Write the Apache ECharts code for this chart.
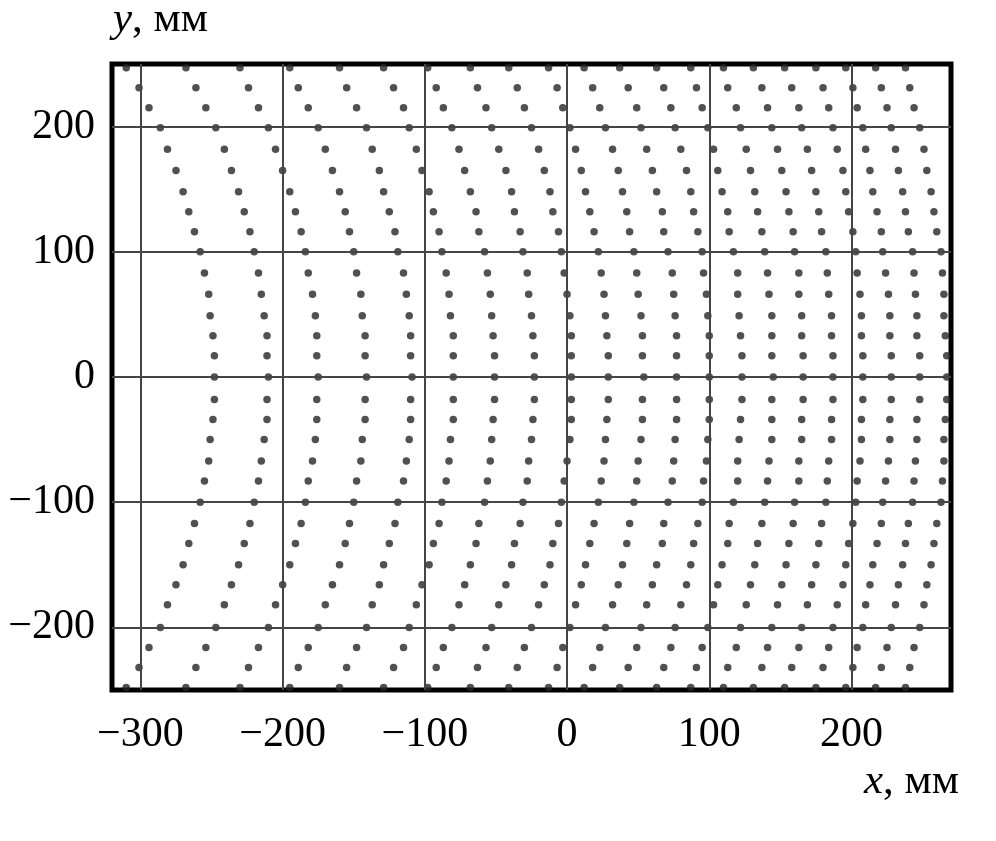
<!DOCTYPE html>
<html>
<head>
<meta charset="utf-8">
<script src="https://cdn.jsdelivr.net/npm/echarts@6/dist/echarts.min.js"></script>
<style>html,body{margin:0;padding:0;background:#fff}#c{width:996px;height:841px}</style>
</head>
<body>
<div id="c"></div>
<script>
// Row heights (mm), top to bottom
const rowsY = [247,231,215,199,182,165,148,132,116,100,83,66,49,33,17,0,-18,-34,-50,-67,-83,-100,-117,-133,-150,-166,-182,-200,-216,-232,-248];
// Dot x positions (mm) for each column, one value per row above
const col01 = [-310,-301,-294,-286,-281,-275,-270,-266,-262,-258,-255,-252,-251,-249,-248,-248,-248,-249,-251,-252,-255,-258,-262,-266,-270,-275,-281,-286,-294,-301,-310];
const col02 = [-268,-261,-254,-247,-241,-236,-231,-227,-223,-220,-217,-215,-213,-211,-211,-210,-211,-211,-213,-215,-217,-220,-223,-227,-231,-236,-241,-247,-254,-261,-268];
const col03 = [-230,-224,-217,-210,-205,-200,-195,-191,-187,-184,-182,-179,-177,-176,-176,-175,-176,-176,-177,-179,-182,-184,-187,-191,-195,-200,-205,-210,-217,-224,-230];
const col04 = [-195,-189,-182,-175,-170,-165,-160,-156,-153,-150,-148,-145,-144,-142,-142,-141,-142,-142,-144,-145,-148,-150,-153,-156,-160,-165,-170,-175,-182,-189,-195];
const col05 = [-160,-155,-148,-141,-137,-132,-129,-125,-121,-119,-115,-113,-111,-110,-110,-109,-110,-110,-111,-113,-115,-119,-121,-125,-129,-132,-137,-141,-148,-155,-160];
const col06 = [-129,-122,-115,-111,-106,-102,-97,-94,-90,-88,-85,-83,-82,-80,-80,-80,-80,-80,-82,-83,-85,-88,-90,-94,-97,-102,-106,-111,-115,-122,-129];
const col07 = [-98,-92,-87,-81,-76,-72,-68,-64,-62,-58,-56,-54,-53,-52,-51,-51,-51,-52,-53,-54,-56,-58,-62,-64,-68,-72,-76,-81,-87,-92,-98];
const col08 = [-68,-63,-57,-53,-48,-43,-39,-37,-33,-31,-28,-27,-25,-24,-23,-23,-23,-24,-25,-27,-28,-31,-33,-37,-39,-43,-48,-53,-57,-63,-68];
const col09 = [-41,-35,-30,-25,-20,-16,-12,-10,-6,-4,-2,0,2,3,3,3,3,3,2,0,-2,-4,-6,-10,-12,-16,-20,-25,-30,-35,-41];
const col10 = [-13,-7,-3,2,6,10,13,16,19,22,24,26,27,28,29,29,29,28,27,26,24,22,19,16,13,10,6,2,-3,-7,-13];
const col11 = [12,18,23,27,32,36,39,42,44,47,49,50,52,53,53,54,53,53,52,50,49,47,44,42,39,36,32,27,23,18,12];
const col12 = [37,43,49,52,56,60,63,67,68,71,74,75,76,77,77,77,77,77,76,75,74,71,68,67,63,60,56,52,49,43,37];
const col13 = [63,68,73,76,80,84,87,89,92,95,96,98,99,100,100,100,100,100,99,98,96,95,92,89,87,84,80,76,73,68,63];
const col14 = [87,91,95,99,103,106,109,113,114,117,120,120,121,122,123,123,123,122,121,120,120,117,114,113,109,106,103,99,95,91,87];
const col15 = [110,113,119,122,126,129,132,134,137,139,141,142,144,144,144,145,144,144,144,142,141,139,137,134,132,129,126,122,119,113,110];
const col16 = [131,137,141,144,148,151,154,156,159,160,163,163,165,165,166,166,166,165,165,163,163,160,159,156,154,151,148,144,141,137,131];
const col17 = [153,158,163,165,169,172,175,177,179,182,183,184,186,186,187,187,187,186,186,184,183,182,179,177,175,172,169,165,163,158,153];
const col18 = [175,180,184,187,190,194,196,198,201,203,204,206,207,207,208,208,208,207,207,206,204,203,201,198,196,194,190,187,184,180,175];
const col19 = [196,201,204,208,210,213,215,218,221,222,224,226,227,227,228,228,228,227,227,226,224,222,221,218,215,213,210,208,204,201,196];
const col20 = [217,221,225,228,231,233,236,238,240,243,244,245,246,246,248,248,248,246,246,245,244,243,240,238,236,233,231,228,225,221,217];
const col21 = [238,241,244,248,251,253,256,258,260,263,264,265,265,266,267,267,267,266,265,265,264,263,260,258,256,253,251,248,244,241,238];
const columns = [col01,col02,col03,col04,col05,col06,col07,col08,col09,col10,col11,col12,col13,col14,col15,col16,col17,col18,col19,col20,col21];

// Tick labels / grid lines
const xTicks = [-300,-200,-100,0,100,200];
const yTicks = [-200,-100,0,100,200];
const xName = 'x';
const yName = 'y';
const unit = 'мм';

const points = [];
columns.forEach(col => col.forEach((x, i) => points.push([x, rowsY[i]])));

const fmt = v => (v < 0 ? '\u2212' + (-v) : String(v));
const serif = "'Liberation Serif', 'DejaVu Serif', serif";

const chart = echarts.init(document.getElementById('c'), null, {renderer: 'canvas'});
chart.setOption({
  animation: false,
  backgroundColor: '#fff',
  grid: {left: 112, right: 45, top: 64, bottom: 151, show: true, borderColor: '#000', borderWidth: 5, backgroundColor: 'transparent'},
  xAxis: {
    type: 'value', min: -320, max: 270,
    splitLine: {show: false}, axisLine: {show: false}, axisTick: {show: false},
    axisLabel: {customValues: xTicks, formatter: fmt, fontFamily: serif, fontSize: 42, color: '#000', margin: 24}
  },
  yAxis: {
    type: 'value', min: -250, max: 250,
    splitLine: {show: false}, axisLine: {show: false}, axisTick: {show: false},
    axisLabel: {customValues: yTicks, formatter: fmt, fontFamily: serif, fontSize: 42, color: '#000', margin: 17}
  },
  graphic: [
    {type: 'text', left: 113, top: -2, z: 10,
     style: {text: '{i|' + yName + '}, ' + unit, fontFamily: serif, fontSize: 43, fill: '#000',
             rich: {i: {fontStyle: 'italic', fontFamily: serif, fontSize: 43}}}},
    {type: 'text', left: 864, top: 760, z: 10,
     style: {text: '{i|' + xName + '}, ' + unit, fontFamily: serif, fontSize: 43, fill: '#000',
             rich: {i: {fontStyle: 'italic', fontFamily: serif, fontSize: 43}}}}
  ],
  series: [
    {
      type: 'scatter',
      symbol: 'circle',
      symbolSize: 7.5,
      itemStyle: {color: '#262626'},
      data: points,
      z: 3,
      markLine: {
        silent: true,
        symbol: ['none', 'none'],
        label: {show: false},
        lineStyle: {color: '#454545', width: 2, type: 'solid'},
        emphasis: {disabled: true},
        data: xTicks.map(v => ({xAxis: v})).concat(yTicks.map(v => ({yAxis: v})))
      }
    }
  ]
});
</script>
</body>
</html>
